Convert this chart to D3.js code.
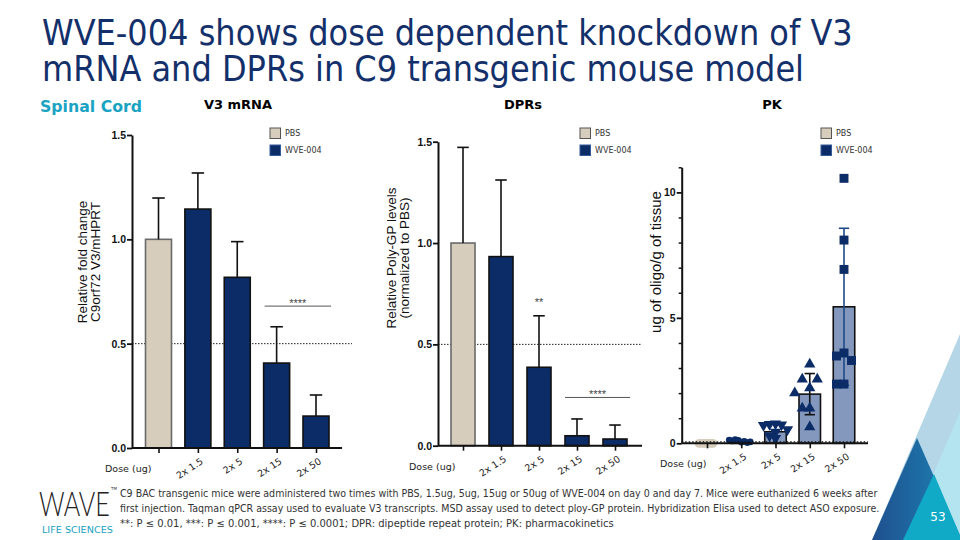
<!DOCTYPE html>
<html><head><meta charset="utf-8">
<script src="https://cdn.jsdelivr.net/npm/d3@7"></script>
<style>body{margin:0;background:#fff}svg{display:block}</style>
</head><body><svg id="c" width="960" height="540"></svg>
<script>
// ---------- data ----------
const categories = ["PBS", "2x 1.5", "2x 5", "2x 15", "2x 50"];
const doseLabels = ["", "2x 1.5", "2x 5", "2x 15", "2x 50"];
const groupType = ["PBS", "WVE-004", "WVE-004", "WVE-004", "WVE-004"];

const v3Mean = [1.0, 1.145, 0.818, 0.407, 0.153];
const v3SD   = [0.198, 0.173, 0.171, 0.174, 0.101];
const v3Ticks = [0, 0.5, 1.0, 1.5];

const dprMean = [1.0, 0.933, 0.387, 0.049, 0.033];
const dprSD   = [0.472, 0.378, 0.254, 0.083, 0.069];
const dprTicks = [0, 0.5, 1.0, 1.5];

const pkMean = [0, 0.05, 0.46, 1.96, 5.44];
const pkSD   = [null, null, null, 0.82, 3.13];
const pkPBS  = [0, 0, 0, 0, 0, 0, 0, 0];
const pk1_5  = [0.05, 0.12, 0.08, 0.15, 0.03, 0.1, 0.06, 0.13];
const pk5    = [0.78, 0.76, 0.74, 0.72, 0.55, 0.45, 0.3, 0.2];
const pk15   = [3.15, 2.55, 2.55, 2.2, 2.0, 1.4, 1.4, 0.65];
const pk50   = [10.56, 8.1, 6.93, 3.6, 3.48, 3.3, 2.36, 2.36];
const pkTicks = [0, 5, 10];

const titleLines = ["WVE-004 shows dose dependent knockdown of V3",
                    "mRNA and DPRs in C9 transgenic mouse model"];
const footLines = [
  "C9 BAC transgenic mice were administered two times with PBS, 1.5ug, 5ug, 15ug or 50ug of WVE-004 on day 0 and day 7. Mice were euthanized 6 weeks after",
  "first injection. Taqman qPCR assay used to evaluate V3 transcripts. MSD assay used to detect ploy-GP protein. Hybridization Elisa used to detect ASO exposure.",
  "**: P \u2264 0.01, ***: P \u2264 0.001, ****: P \u2264 0.0001; DPR: dipeptide repeat protein; PK: pharmacokinetics"];

// ---------- style ----------
const NAVY = "#0c2c68", BEIGE = "#d6cdbc", PKFILL = "#8398bc", TEAL = "#1aa3c2";
const svg = d3.select("#c");
const defs = svg.append("defs");

function fitText(x, y, target, attrs, str){
  const t = svg.append("text").attr("x",0).attr("y",0).text(str);
  Object.entries(attrs).forEach(([k,v])=>t.attr(k,v));
  const w = t.node().getComputedTextLength();
  t.attr("transform",`translate(${x},${y}) scale(${target/w},1)`);
  return t;
}

// ---------- decoration bottom right ----------
const gr = defs.append("linearGradient").attr("id","gd").attr("x1","0").attr("x2","1").attr("y1","0").attr("y2","0");
gr.append("stop").attr("offset","0").attr("stop-color","#1f4f8e");
gr.append("stop").attr("offset","1").attr("stop-color","#1c86b6");
const deco = svg.append("g");
deco.append("polygon").attr("points","960,334 872,540 960,540").attr("fill","#b5d6e6");
deco.append("polygon").attr("points","960,412 905,540 960,540").attr("fill","#b4e4ef");
deco.append("polygon").attr("points","917,438 872,540 962,540").attr("fill","url(#gd)");
deco.append("polygon").attr("points","934,474 903,540 962,540").attr("fill","#10a9c6");
deco.append("text").attr("x",938).attr("y",521).attr("text-anchor","middle")
  .attr("font-family","DejaVu Sans").attr("font-size",12).attr("fill","#fff").text("53");

// ---------- title (one text, two lines) ----------
const title = svg.append("text").attr("font-family","DejaVu Sans").attr("font-size",36).attr("fill","#13306b");
const tl = titleLines.map((t,i)=>title.append("tspan").attr("x",0).attr("y", i*36).text(t));
const tw = tl[0].node().getComputedTextLength();
title.attr("transform",`translate(42,45) scale(${811/tw},1)`);
fitText(40, 112, 102, {"font-family":"DejaVu Sans","font-weight":"bold","font-size":15.5,"fill":TEAL}, "Spinal Cord");

// ---------- footer ----------
footLines.forEach((t,i)=>{
  fitText(120, 497+i*15, [758,760,494][i], {"font-family":"DejaVu Sans","font-size":10.5,"fill":"#333"}, t);
});
fitText(39, 516, 71, {"font-family":"Lato","font-weight":300,"font-size":33,"fill":"#222"}, "WAVE");
svg.append("text").attr("x",111).attr("y",490).attr("font-family","DejaVu Sans").attr("font-size",4).attr("fill","#333").text("TM");
fitText(42, 533, 71, {"font-family":"DejaVu Sans","font-size":8.5,"fill":TEAL}, "LIFE SCIENCES");

// ---------- chart builder ----------
function chart(o){
  const g = svg.append("g");
  const y = d3.scaleLinear().domain(o.domain).range([o.y0, o.yTop]);
  const x = d3.scalePoint().domain(categories).range(o.xr);
  g.append("text").attr("x",o.titleX).attr("y",109).attr("text-anchor","middle")
    .attr("font-family","DejaVu Sans").attr("font-weight","bold").attr("font-size",13).text(o.title);
  const lab = g.append("text").attr("transform",`translate(${o.labX},${o.labY}) rotate(-90)`)
    .attr("text-anchor","middle").attr("font-family","Liberation Sans").attr("font-size",o.labSize).attr("fill","#111");
  o.label.forEach((l,i)=>lab.append("tspan").attr("x",0).attr("dy", i? 12.5 : 0).text(l));
  if (o.refLine) g.append("line").attr("x1",o.x0).attr("x2",o.refEnd).attr("y1",y(0.5)).attr("y2",y(0.5))
    .attr("stroke","#222").attr("stroke-width",1).attr("stroke-dasharray","1.5,1.5");
  const bars = g.append("g");
  categories.forEach((c,i)=>{
    const v = o.mean[i];
    const isP = groupType[i]==="PBS";
    if (o.points && isP) return;
    bars.append("rect").attr("x",x(c)-o.bw/2).attr("width",o.bw)
      .attr("y",y(v)).attr("height",Math.max(0,y(0)-y(v)))
      .attr("fill", o.points ? PKFILL : (isP ? BEIGE : NAVY))
      .attr("stroke", isP ? "#6a6a6a" : "#111").attr("stroke-width",1.6);
  });
  categories.forEach((c,i)=>{
    const sd = o.sd[i]; if (sd==null) return;
    const v = o.mean[i], cx = x(c), cw = o.bw*0.24;
    const col = o.errCol ? o.errCol[i] : "#111";
    const lo = o.bothSides ? v - sd : v;
    g.append("line").attr("x1",cx).attr("x2",cx).attr("y1",y(lo)).attr("y2",y(v+sd)).attr("stroke",col).attr("stroke-width",1.6);
    g.append("line").attr("x1",cx-cw).attr("x2",cx+cw).attr("y1",y(v+sd)).attr("y2",y(v+sd)).attr("stroke",col).attr("stroke-width",1.6);
    if (o.bothSides) g.append("line").attr("x1",cx-cw).attr("x2",cx+cw).attr("y1",y(lo)).attr("y2",y(lo)).attr("stroke",col).attr("stroke-width",1.6);
  });
  if (o.points){
    o.points.forEach((vals,i)=>{
      const sp = o.pointStyle[i];
      const placed = [];
      const cx = x(categories[i]);
      vals.forEach(v=>{
        const py = y(v);
        let dx = 0;
        const cand = [0,-1,1,-2,2,-3,3,-4,4];
        for (let k=0;k<cand.length;k++){
          dx = cand[k]*sp.step;
          if (!placed.some(p=>Math.abs(p.dx-dx)<sp.step*0.99 && Math.abs(p.y-py)<sp.dy)) break;
        }
        placed.push({dx, y:py});
        g.append("path").attr("d", d3.symbol().type(sp.type).size(sp.size)())
          .attr("transform",`translate(${cx+dx},${py}) rotate(${sp.rot||0})`)
          .attr("fill",sp.fill);
      });
    });
  }
  const ya = d3.axisLeft(y).tickValues(o.ticks).tickSize(5).tickSizeOuter(0).tickPadding(1).tickFormat(o.fmt);
  const yg = g.append("g").attr("transform",`translate(${o.x0},0)`).call(ya);
  yg.select(".domain").attr("stroke","#111").attr("stroke-width",2);
  yg.selectAll(".tick line").attr("stroke","#111").attr("stroke-width",1.8);
  yg.selectAll(".tick text").attr("font-family","Liberation Sans").attr("font-weight","bold").attr("font-size",10.5).attr("fill","#111");
  if (o.minor){
    const mg = g.append("g").attr("transform",`translate(${o.x0},0)`).call(
      d3.axisLeft(y).tickValues(d3.range(o.domain[0], o.domain[1]+1).filter(v=>!o.ticks.includes(v)))
        .tickSize(3).tickSizeOuter(0).tickFormat(""));
    mg.select(".domain").remove();
    mg.selectAll(".tick line").attr("stroke","#111").attr("stroke-width",1.5);
  }
  const xa = d3.axisBottom(x).tickSize(5).tickSizeOuter(0).tickFormat("");
  const xg = g.append("g").attr("transform",`translate(0,${o.y0})`).call(xa);
  xg.select(".domain").attr("d",`M${o.x0},0H${o.xEnd}`).attr("stroke","#111").attr("stroke-width",2);
  xg.selectAll(".tick line").attr("stroke","#111").attr("stroke-width",1.6);
  if (o.points) g.append("line").attr("x1",o.x0).attr("x2",o.xEnd).attr("y1",o.y0-1.5).attr("y2",o.y0-1.5)
    .attr("stroke","#111").attr("stroke-width",1.3).attr("stroke-dasharray","1.5,2");
  categories.forEach((c,i)=>{
    if (!doseLabels[i]) return;
    g.append("text").attr("transform",`translate(${x(c)+6},${o.y0+15}) rotate(-33)`)
      .attr("text-anchor","end").attr("font-family","DejaVu Sans").attr("font-size",9.5).attr("fill","#222").text(doseLabels[i]);
  });
  g.append("text").attr("x",o.doseX).attr("y",o.y0+24).attr("font-family","DejaVu Sans")
    .attr("font-size",9.5).attr("fill","#222").text("Dose (ug)");
  ["PBS","WVE-004"].forEach((l,i)=>{
    g.append("rect").attr("x",o.legX).attr("y",128+i*17).attr("width",10.5).attr("height",10.5)
      .attr("fill", i? NAVY : BEIGE).attr("stroke", i? "#355a9a":"#555").attr("stroke-width",1);
    g.append("text").attr("x",o.legX+15).attr("y",136+i*17).attr("font-family","DejaVu Sans")
      .attr("font-size",8).attr("fill","#333").text(l);
  });
  (o.sig||[]).forEach(s=>{
    const a = x(categories[s.from]), b = x(categories[s.to]);
    if (s.line){
      g.append("line").attr("x1",a-12).attr("x2",b+15).attr("y1",y(s.y)).attr("y2",y(s.y)).attr("stroke","#555").attr("stroke-width",1);
    }
    g.append("text").attr("x",(a+b)/2 + (s.line?1.5:0)).attr("y",y(s.y)+ (s.line? 1 : 0)).attr("text-anchor","middle")
      .attr("font-family","Liberation Sans").attr("font-size",11).attr("fill","#444").text(s.text);
  });
  return {x,y};
}

chart({title:"V3 mRNA", titleX:238, label:["Relative fold change","C9orf72 V3/mHPRT"], labX:87, labY:262, labSize:13.5,
  domain:[0,1.5], y0:448, yTop:135, x0:132, xEnd:342, xr:[158.5,316], bw:26,
  mean:v3Mean, sd:v3SD, ticks:v3Ticks, fmt:d3.format(".1f"), refLine:true, refEnd:352,
  doseX:105, legX:270, sig:[{from:3,to:4,y:0.68,line:true,text:"****"}]});

chart({title:"DPRs", titleX:523, label:["Relative Poly-GP levels","(normalized to PBS)"], labX:396, labY:258, labSize:13.5,
  domain:[0,1.5], y0:445.7, yTop:141.7, x0:438, xEnd:642, xr:[463,615], bw:24,
  mean:dprMean, sd:dprSD, ticks:dprTicks, fmt:d3.format(".1f"), refLine:true, refEnd:642,
  doseX:409, legX:580, sig:[{from:2,to:2,y:0.69,line:false,text:"**"},{from:3,to:4,y:0.238,line:true,text:"****"}]});

chart({title:"PK", titleX:772, label:["ug of oligo/g of tissue"], labX:661, labY:262, labSize:15,
  domain:[0,11], y0:443.3, yTop:167.3, x0:681.7, xEnd:868, xr:[707,844], bw:21.5,
  mean:pkMean, sd:pkSD, bothSides:true, errCol:["#111","#111","#111","#111","#1f4a8a"],
  ticks:pkTicks, fmt:d3.format("d"), minor:true,
  doseX:660, legX:821,
  points:[pkPBS, pk1_5, pk5, pk15, pk50],
  pointStyle:[
    {type:d3.symbolCircle, size:60, fill:BEIGE, step:2, dy:6},
    {type:d3.symbolCircle, size:36, fill:NAVY, step:3, dy:5},
    {type:d3.symbolTriangle, size:55, rot:180, fill:NAVY, step:6, dy:6},
    {type:d3.symbolTriangle, size:55, fill:NAVY, step:7.5, dy:16},
    {type:d3.symbolSquare, size:80, fill:NAVY, step:7.5, dy:9}]});
</script></body></html>
